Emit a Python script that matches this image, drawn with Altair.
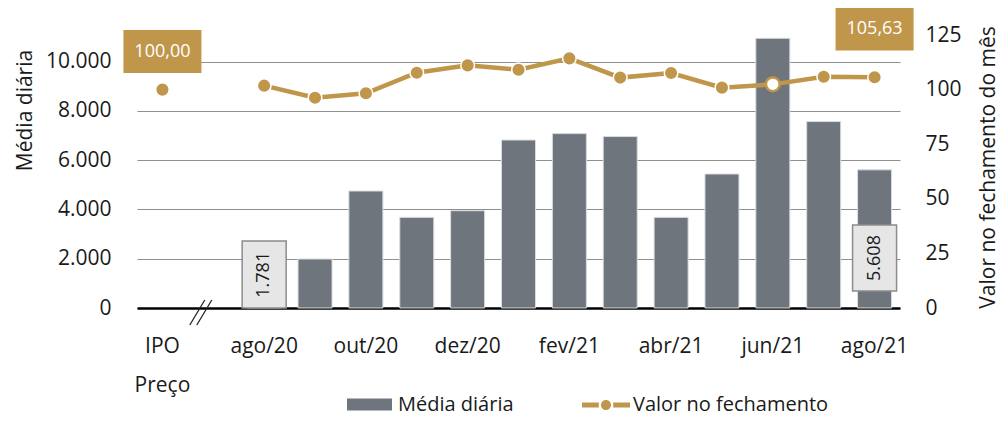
import altair as alt
import pandas as pd

# ---------------- data ----------------
categories = ["IPO", "_", "ago/20", "set/20", "out/20", "nov/20", "dez/20", "jan/21",
              "fev/21", "mar/21", "abr/21", "mai/21", "jun/21", "jul/21", "ago/21"]
months = ["ago/20", "set/20", "out/20", "nov/20", "dez/20", "jan/21",
          "fev/21", "mar/21", "abr/21", "mai/21", "jun/21", "jul/21", "ago/21"]
media_diaria = [1781, 1990, 4750, 3680, 3950, 6820, 7080, 6960, 3680, 5440, 10950, 7570, 5608]
ipo_cat = "IPO"
ipo_valor = 100.00
valor_fechamento = [101.8, 96.3, 98.3, 107.7, 111.1, 109.1, 114.3, 105.5, 107.6, 100.9, 102.4, 105.9, 105.63]
shown_labels = ["ago/20", "out/20", "dez/20", "fev/21", "abr/21", "jun/21", "ago/21"]
ipo_sublabel = "Preço"
left_ticks = [0, 2000, 4000, 6000, 8000, 10000]
right_ticks = [0, 25, 50, 75, 100, 125]
highlight_month = "jun/21"
gray_label_months = ["ago/20", "ago/21"]
gold_label_cats = ["IPO", "ago/21"]
gap_cat = "_"
serie_bar = "Média diária"
serie_line = "Valor no fechamento"
title_left = "Média diária"
title_right = "Valor no fechamento do mês"

# ---------------- style ----------------
GOLD = "#C0964B"
GRAY = "#6E757C"
TXT = "#1a1a1a"
FONT = "Open Sans"
FS = 21
LFS = 20
LEFT_MAX = 11084
RIGHT_MAX = 125

bars_df = pd.DataFrame({"cat": months, "media": media_diaria, "serie": serie_bar})
line_df = pd.DataFrame({"cat": months, "valor": valor_fechamento, "serie": serie_line})
pts_df = pd.DataFrame({"cat": [ipo_cat] + months, "valor": [ipo_valor] + valor_fechamento})
pts_df["hl"] = pts_df["cat"] == highlight_month

# label boxes (annotation extents in axis units)
gray_box = pd.DataFrame({
    "cat": gray_label_months,
    "val": [media_diaria[months.index(m)] for m in gray_label_months],
    "b0": [0, 690], "b1": [2720, 3370], "mid": [1350, 2030],
})
gray_box["txt"] = gray_box["val"].map(lambda v: f"{v:,}".replace(",", "."))
gold_vals = [ipo_valor if c == ipo_cat else valor_fechamento[months.index(c)] for c in gold_label_cats]
gold_box = pd.DataFrame({
    "cat": gold_label_cats, "val": gold_vals,
    "b0": [107.6, 117.9], "b1": [127.3, 138.0], "mid": [117.4, 127.9],
})
gold_box["txt"] = gold_box["val"].map(lambda v: f"{v:.2f}".replace(".", ","))
slash_df = pd.DataFrame({"cat": [gap_cat, gap_cat], "s0": [-690, -690], "s1": [325, 325]})

# ---------------- encodings ----------------
shown_js = "[" + ",".join(f"'{s}'" for s in shown_labels) + "]"
x_label_expr = (f"datum.value == '{ipo_cat}' ? ['{ipo_cat}', '{ipo_sublabel}'] : "
                f"(indexof({shown_js}, datum.value) >= 0 ? datum.value : '')")

def X():
    return alt.X("cat:N", sort=categories,
                 scale=alt.Scale(domain=categories, paddingInner=0, paddingOuter=0),
                 axis=alt.Axis(title=None, labelExpr=x_label_expr, labelAngle=0,
                               labelFontSize=FS, labelFont=FONT, labelColor=TXT,
                               labelPadding=27, labelLineHeight=39, labelOverlap=False,
                               labelBound=False, ticks=False, domainColor="#000000",
                               domainWidth=2.5, grid=False))

left_axis = alt.Axis(title=title_left, values=left_ticks, orient="left",
                     labelExpr="replace(format(datum.value, ','), ',', '.')",
                     labelFontSize=FS, labelFont=FONT, labelColor=TXT, labelPadding=26,
                     ticks=False, domain=False, grid=True, gridColor="#8f8f8f", gridWidth=1,
                     titleFontSize=FS, titleFont=FONT, titleColor=TXT, titleFontWeight="normal",
                     titleAngle=270, titleX=-112, titleY=75, titleAlign="center",
                     titleBaseline="middle")
right_axis = alt.Axis(title=title_right, values=right_ticks, orient="right",
                      labelFontSize=FS, labelFont=FONT, labelColor=TXT, labelPadding=25,
                      ticks=False, domain=False, grid=False,
                      titleFontSize=FS, titleFont=FONT, titleColor=TXT, titleFontWeight="normal",
                      titleAngle=270, titleX=88, titleY=132, titleAlign="center",
                      titleBaseline="middle")

def YL(field):
    return alt.Y(field, scale=alt.Scale(domain=[0, LEFT_MAX], nice=False, zero=True), axis=left_axis)

def YR(field):
    return alt.Y(field, scale=alt.Scale(domain=[0, RIGHT_MAX], nice=False, zero=True), axis=right_axis)

rect_path = "M-1,-0.27H1V0.27H-1Z"
line_path = ("M-1,-0.1H-0.3V0.1H-1Z M0.3,-0.1H1V0.1H0.3Z "
             "M-0.21,0A0.21,0.21 0 1,0 0.21,0A0.21,0.21 0 1,0 -0.21,0Z")

bars = alt.Chart(bars_df).mark_bar(size=34, stroke="#d9dcdf", strokeWidth=1).encode(
    x=X(), y=YL("media:Q"),
    fill=alt.Fill("serie:N", scale=alt.Scale(domain=[serie_bar], range=[GRAY]),
                  legend=alt.Legend(orient="none", legendX=210, legendY=347, title=None,
                                    symbolType=rect_path, symbolSize=2025,
                                    symbolStrokeWidth=0, labelFontSize=LFS, labelFont=FONT,
                                    labelColor=TXT, labelOffset=6, padding=0, labelLimit=400)),
)
gbox = alt.Chart(gray_box).mark_bar(size=44, fill="#E6E6E6", stroke="#8C8C8C", strokeWidth=1.5).encode(
    x=X(), y=YL("b0:Q"), y2="b1:Q")
gtext = alt.Chart(gray_box).mark_text(angle=270, fontSize=18, font=FONT, color=TXT).encode(
    x=X(), y=YL("mid:Q"), text="txt:N")
slash1 = alt.Chart(slash_df.iloc[[0]]).mark_rule(color="#222222", strokeWidth=1.3,
                                                 xOffset=-23.5, x2Offset=-8.5).encode(
    x=X(), x2="cat:N", y=YL("s0:Q"), y2="s1:Q")
slash2 = alt.Chart(slash_df.iloc[[1]]).mark_rule(color="#222222", strokeWidth=1.3,
                                                 xOffset=-16.5, x2Offset=-1.5).encode(
    x=X(), x2="cat:N", y=YL("s0:Q"), y2="s1:Q")

left_layer = alt.layer(bars, gbox, gtext, slash1, slash2)

line = alt.Chart(line_df).mark_line(strokeWidth=4.5).encode(
    x=X(), y=YR("valor:Q"),
    stroke=alt.Stroke("serie:N", scale=alt.Scale(domain=[serie_line], range=[GOLD]),
                      legend=alt.Legend(orient="none", legendX=445, legendY=346, title=None,
                                        symbolType=line_path, symbolSize=2304,
                                        symbolFillColor=GOLD, symbolStrokeWidth=0,
                                        labelFontSize=LFS, labelFont=FONT, labelColor=TXT,
                                        labelOffset=3, padding=0, labelLimit=400)),
)
pts = alt.Chart(pts_df).transform_filter("!datum.hl").mark_point(
    filled=True, size=185, fill=GOLD, stroke="white", strokeWidth=1.5, opacity=1).encode(
    x=X(), y=YR("valor:Q"))
hl = alt.Chart(pts_df).transform_filter("datum.hl").mark_point(
    filled=True, size=190, fill="white", stroke=GOLD, strokeWidth=2.5, opacity=1).encode(
    x=X(), y=YR("valor:Q"))
obox = alt.Chart(gold_box).mark_bar(size=78, fill=GOLD).encode(
    x=X(), y=YR("b0:Q"), y2="b1:Q")
otext = alt.Chart(gold_box).mark_text(fontSize=18, font=FONT, color="white").encode(
    x=X(), y=YR("mid:Q"), text="txt:N")

right_layer = alt.layer(line, pts, hl, obox, otext)

chart = alt.layer(left_layer, right_layer).resolve_scale(
    y="independent", fill="independent", stroke="independent"
).properties(
    width=763, height=273,
    autosize=alt.AutoSizeParams(type="none"),
    padding={"left": 129, "top": 27, "right": 100, "bottom": 109},
    background="white",
).configure_view(stroke=None)

chart.save("out.html", embed_options={"renderer": "svg", "actions": False})
